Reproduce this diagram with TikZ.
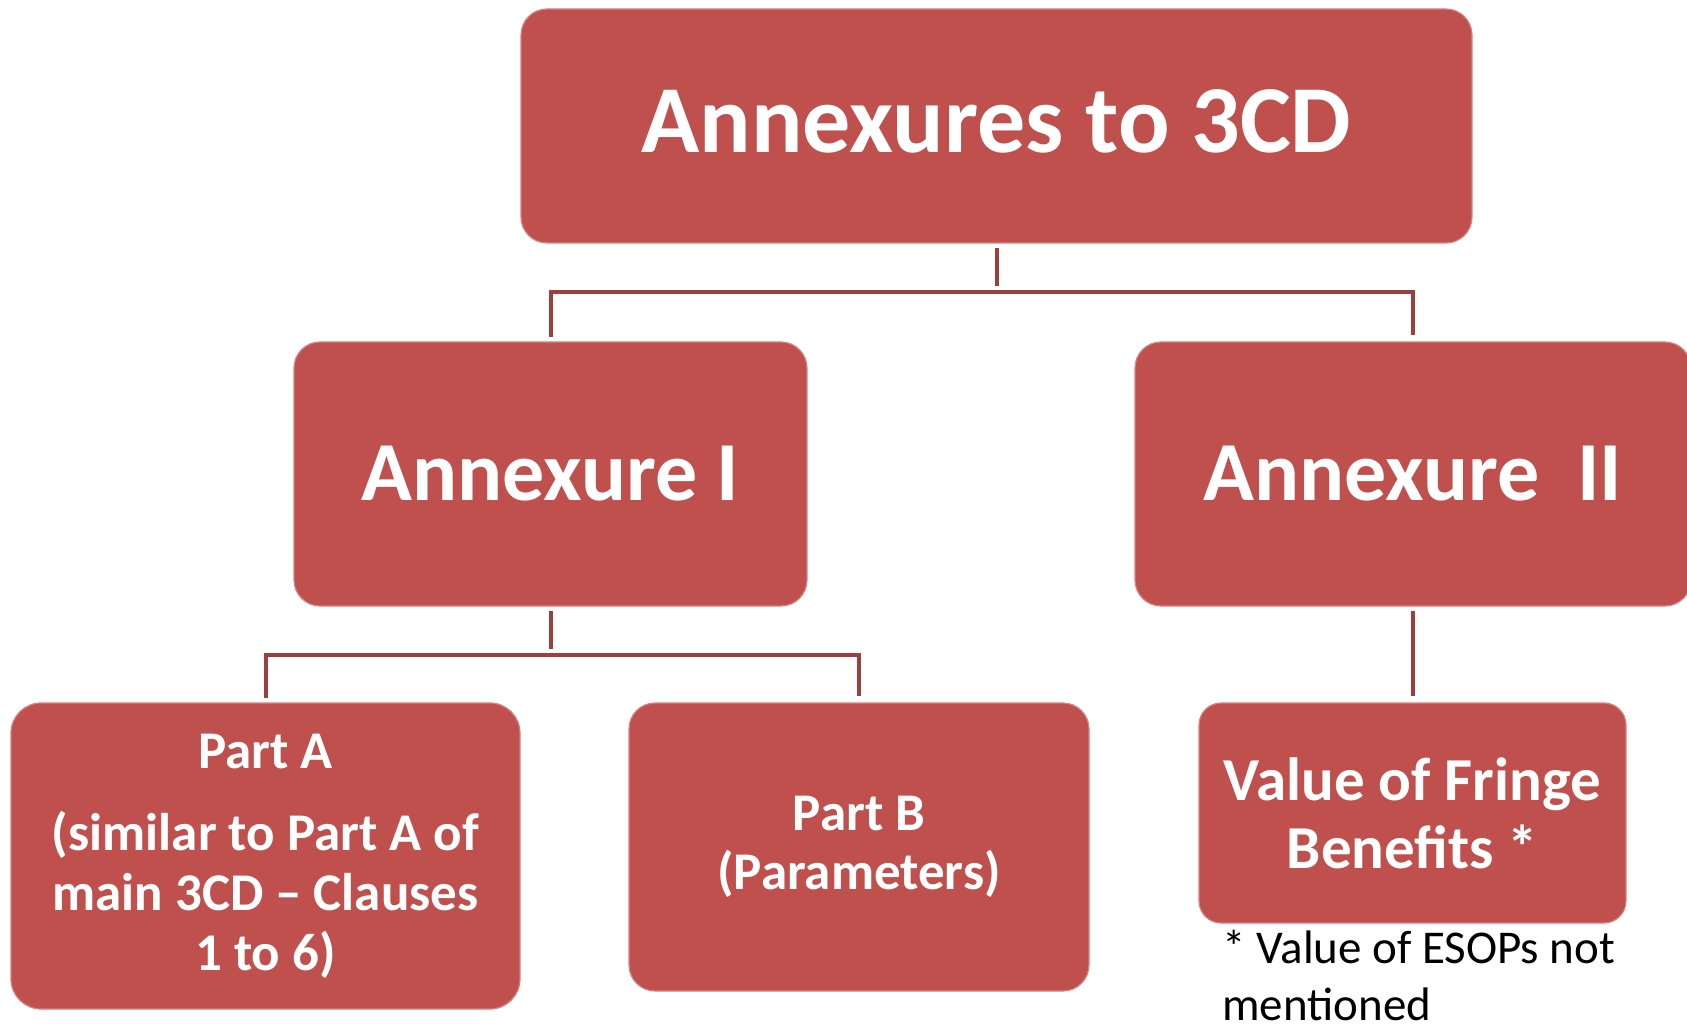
\documentclass[tikz,border=0pt]{standalone}
\usepackage{fontspec}
\setmainfont{Carlito}
\usepackage{tikz}
\usetikzlibrary{positioning,calc}
\definecolor{AnxRed}{HTML}{C0504D}
\definecolor{AnxLine}{HTML}{9D3F3C}
\definecolor{AnxInk}{HTML}{000000}

\begin{document}
\begin{tikzpicture}[
  x=0.5pt, y=-0.5pt,
  box/.style={fill=AnxRed, draw=AnxRed!70!white, line width=0.6pt, rounded corners=13pt,
              text=white, font=\bfseries, align=center, inner sep=4pt},
  link/.style={draw=AnxLine, line width=2pt, shorten <=2pt, shorten >=3pt},
  note/.style={font=\fontsize{23.5}{28.5}\selectfont, text=AnxInk, align=left, inner sep=0pt},
]
\path[use as bounding box, clip] (0,0) rectangle (1687,1026);

% --- Top level ---
\node[box, minimum width=475.5pt, minimum height=117pt, text depth=5pt,
      font=\bfseries\fontsize{48}{58}\selectfont] (root) at (996.5,126)
  {Annexures to 3CD};

% --- Annexures ---
\node[box, minimum width=256.5pt, minimum height=132pt,
      font=\bfseries\fontsize{42}{50}\selectfont] (ann1) at (550.5,474)
  {Annexure I};
\node[box, minimum width=278pt, minimum height=132pt,
      font=\bfseries\fontsize{42}{50}\selectfont] (ann2) at (1413,474)
  {Annexure\ \ II};

% --- Parts ---
\node[box, minimum width=254.5pt, minimum height=153pt, rounded corners=15pt,
      font=\bfseries\fontsize{26.5}{30}\selectfont] (parta) at (265.5,856)
  {Part A\\[11pt](similar to Part A of\\main 3CD -- Clauses\\1 to 6)};
\node[box, minimum width=230pt, minimum height=144pt,
      font=\bfseries\fontsize{26.5}{29.5}\selectfont] (partb) at (859,847)
  {Part B\\(Parameters)};
\node[box, minimum width=213.5pt, minimum height=110pt, rounded corners=11pt,
      font=\bfseries\fontsize{30.5}{34}\selectfont] (fringe) at (1412.5,813)
  {Value of Fringe\\Benefits *};

% footnote
\node[note, anchor=north west] (esop) at (1222,930)
  {* Value of ESOPs not\\mentioned};

% --- Connectors ---
\coordinate (bus1) at ($(root.south)!0.5!(root.south |- ann1.north)$);
\draw[link] (root.south) -- (bus1);
\draw[link] (ann1.north) |- (bus1) -| (ann2.north);

\coordinate (bus2) at ($(ann1.south)!0.5!(ann1.south |- parta.north)$);
\draw[link] (ann1.south) -- (bus2);
\draw[link] (parta.north) |- (bus2) -| (partb.north);

\draw[link] (ann2.south) -- (ann2.south |- fringe.north);

\end{tikzpicture}
\end{document}
